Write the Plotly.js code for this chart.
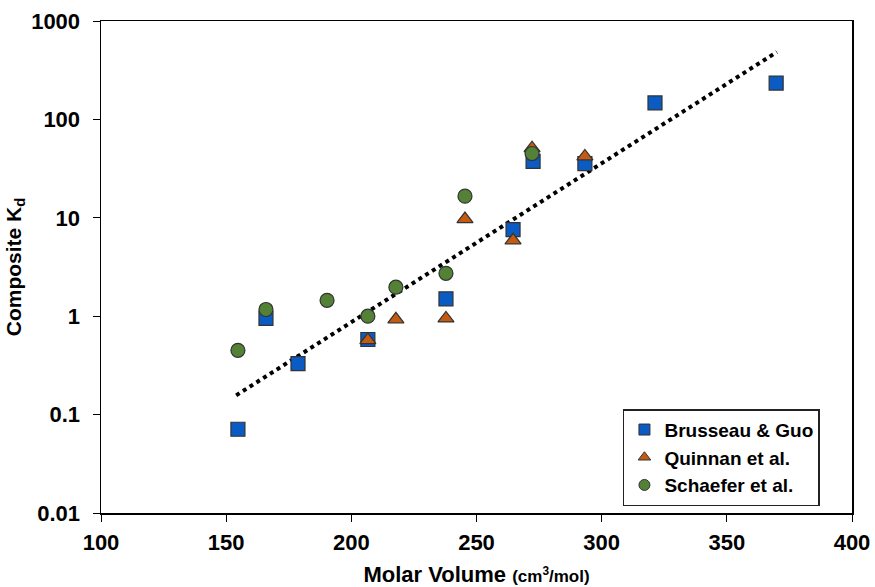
<!DOCTYPE html>
<html>
<head>
<meta charset="utf-8">
<script src="https://cdn.plot.ly/plotly-3.0.1.min.js"></script>
<style>html,body{margin:0;padding:0;background:#fff;}#chart{width:875px;height:587px;}</style>
</head>
<body>
<div id="chart"></div>
<script>
// Brusseau & Guo
const bgX = [154.7, 165.9, 178.7, 206.6, 237.8, 264.6, 272.6, 293.3, 321.3, 369.7];
const bgY = [0.071, 0.95, 0.33, 0.58, 1.5, 7.6, 37.5, 35.5, 147, 234];
// Quinnan et al.
const qX = [206.6, 217.8, 237.8, 245.4, 264.6, 272.2, 293.3];
const qY = [0.57, 0.93, 0.95, 9.7, 5.9, 51, 42];
// Schaefer et al.
const sX = [154.7, 165.9, 190.3, 206.6, 217.8, 237.8, 245.4, 272.2];
const sY = [0.45, 1.17, 1.45, 1.0, 1.97, 2.73, 16.6, 45];
// Fitted trend line (end points)
const fitX = [154, 370];
const fitY = [0.157, 484];
// Tick labels
const yTickVals = [0.01, 0.1, 1, 10, 100, 1000];
const yTickText = ["0.01", "0.1", "1", "10", "100", "1000"];
const xTickVals = [100, 150, 200, 250, 300, 350, 400];
const xTickText = ["100", "150", "200", "250", "300", "350", "400"];
// Series names / colours
const names = ['Brusseau &amp; Guo', 'Quinnan et al.', 'Schaefer et al.'];
const symbols = ['square', 'triangle-up', 'circle'];
const colors = ['#0A5BC4', '#C55A11', '#538135'];

const FONT = 'Liberation Sans, Arial, sans-serif';
const bold = s => '<b>' + s + '</b>';
const edge = {color: '#333333', width: 1.2};
const seriesX = [bgX, qX, sX];
const seriesY = [bgY, qY, sY];

const traces = [
  {x: fitX, y: fitY, mode: 'lines', type: 'scatter', showlegend: false,
   line: {color: '#000000', width: 4, dash: 'dot'}, hoverinfo: 'skip'}
];
for (let i = 0; i < 3; i++) {
  traces.push({x: seriesX[i], y: seriesY[i], mode: 'markers', type: 'scatter',
    name: names[i], showlegend: false,
    marker: {symbol: symbols[i], size: 14, color: colors[i], line: edge}});
}
// legend entries with smaller symbols (as in the reference)
for (let i = 0; i < 3; i++) {
  traces.push({x: [null], y: [null], mode: 'markers', type: 'scatter',
    name: bold(names[i]), legendgroup: 'g' + i, showlegend: true,
    marker: {symbol: symbols[i], size: 11, color: colors[i], line: {color: '#333', width: 1}}});
}

const tickFont = {family: FONT, size: 22, color: '#000'};
const layout = {
  width: 875, height: 587,
  margin: {l: 101, r: 23, t: 21, b: 74},
  paper_bgcolor: '#fff', plot_bgcolor: '#fff',
  font: {family: FONT, color: '#000'},
  xaxis: {
    range: [100, 400],
    tickvals: xTickVals, ticktext: xTickText.map(bold),
    showgrid: false, zeroline: false,
    showline: true, linecolor: '#000', linewidth: 1.5, mirror: true,
    ticks: 'outside', ticklen: 7, tickcolor: '#000', tickwidth: 1,
    ticklabelstandoff: 2,
    tickfont: tickFont,
    title: {text: '<b>Molar Volume</b> <b><span style="font-size:17px">(cm<sup>3</sup>/mol)</span></b>',
            font: {family: FONT, size: 22, color: '#000'}, standoff: 16}
  },
  yaxis: {
    type: 'log', range: [-2, 3],
    tickvals: yTickVals, ticktext: yTickText.map(bold),
    showgrid: false, zeroline: false,
    showline: true, linecolor: '#000', linewidth: 1.5, mirror: true,
    ticks: 'outside', ticklen: 7, tickcolor: '#000', tickwidth: 1,
    ticklabelstandoff: 8,
    tickfont: tickFont,
    title: {text: '<b>Composite K<sub>d</sub></b>',
            font: {family: FONT, size: 21, color: '#000'}, standoff: 4}
  },
  legend: {
    x: 0.695, y: 0.211, xanchor: 'left', yanchor: 'top',
    bgcolor: '#fff', bordercolor: '#222', borderwidth: 1.5,
    font: {family: FONT, size: 19, color: '#000'},
    tracegroupgap: 5, traceorder: 'normal'
  },
  showlegend: true
};
Plotly.newPlot('chart', traces, layout, {displayModeBar: false, staticPlot: true});
</script>
</body>
</html>
